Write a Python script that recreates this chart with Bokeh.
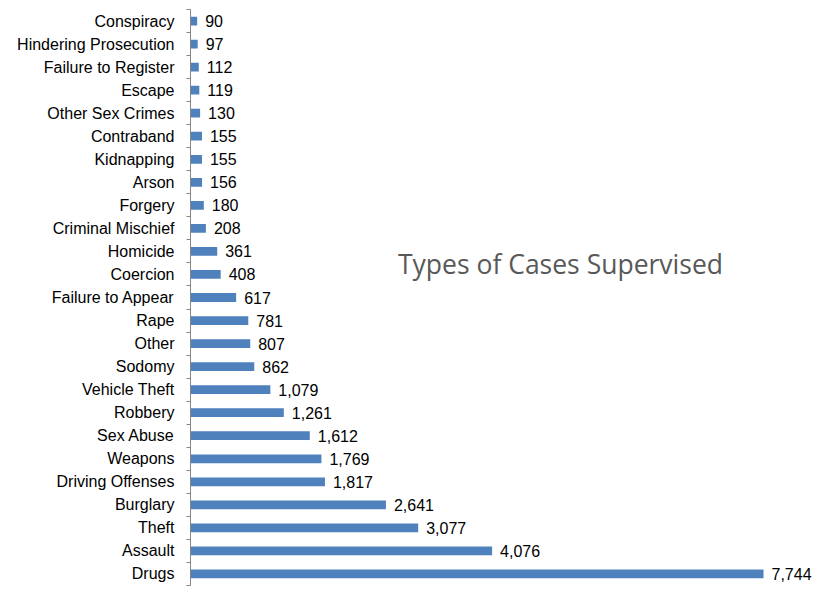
from bokeh.plotting import figure
from bokeh.models import ColumnDataSource, Range1d, FixedTicker, Label
from bokeh.embed import file_html
from bokeh.resources import INLINE
from bokeh.core.properties import value

categories = ["Drugs", "Assault", "Theft", "Burglary", "Driving Offenses", "Weapons",
              "Sex Abuse", "Robbery", "Vehicle Theft", "Sodomy", "Other", "Rape",
              "Failure to Appear", "Coercion", "Homicide", "Criminal Mischief", "Forgery",
              "Arson", "Kidnapping", "Contraband", "Other Sex Crimes", "Escape",
              "Failure to Register", "Hindering Prosecution", "Conspiracy"]
counts = [7744, 4076, 3077, 2641, 1817, 1769, 1612, 1261, 1079, 862, 807, 781,
          617, 408, 361, 208, 180, 156, 155, 155, 130, 119, 112, 97, 90]
title_text = "Types of Cases Supervised"

n = len(categories)
pos = list(range(n))
src = ColumnDataSource(dict(
    y=pos, v=counts, cat=categories,
    lbl=[f"{c:,}" for c in counts],
))

p = figure(width=828, height=589, output_backend="svg", toolbar_location=None,
           x_range=Range1d(0, 8622), y_range=Range1d(-0.5, n - 0.5),
           min_border_left=190, min_border_right=0, min_border_top=9, min_border_bottom=4)
p.outline_line_color = None
p.xgrid.visible = False
p.ygrid.visible = False
p.xaxis.visible = False

p.hbar(y="y", right="v", left=0, height=0.38, source=src,
       fill_color="#4F81BD", line_color=None)
p.text(x="v", y="y", text="lbl", source=src, x_offset=8,
       text_align="left", text_baseline="middle",
       text_font=value("Liberation Sans"), text_font_size="16px", text_color="#000000")

ya = p.yaxis[0]
ya.ticker = FixedTicker(ticks=pos, minor_ticks=[i - 0.5 for i in range(n + 1)])
ya.major_label_overrides = {i: c for i, c in enumerate(categories)}
ya.major_tick_out = 0
ya.major_tick_in = 0
ya.minor_tick_out = 4
ya.minor_tick_in = 0
ya.minor_tick_line_color = "#868686"
ya.axis_line_color = "#868686"
ya.major_label_standoff = 12
ya.major_label_text_font = "Liberation Sans"
ya.major_label_text_font_size = "16px"
ya.major_label_text_color = "#000000"

p.add_layout(Label(x=5000, y=13.45, text=title_text, text_align="center",
                   text_baseline="middle", text_font="Open Sans",
                   text_font_size="26.5px", text_color="#595959"))

open("out.html", "w").write(file_html(p, INLINE))
